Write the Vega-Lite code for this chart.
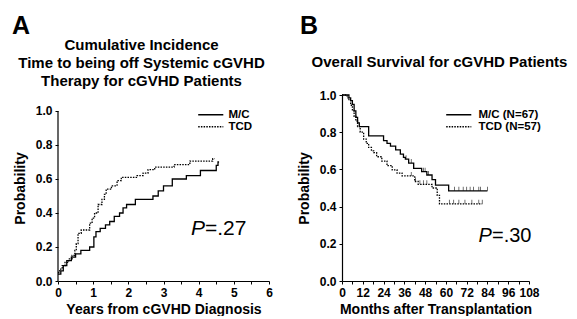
{
  "$schema": "https://vega.github.io/schema/vega-lite/v6.json",
  "background": "white",
  "padding": {"left": 12, "top": 13, "right": 0, "bottom": 0},
  "config": {
    "view": {"stroke": null},
    "font": "Liberation Sans",
    "axis": {
      "domainColor": "black", "domainWidth": 1.2, "tickColor": "black", "tickWidth": 1, "tickSize": 3,
      "labelFont": "Liberation Sans", "labelFontWeight": "bold", "labelFontSize": 12, "labelColor": "black", "labelPadding": 3,
      "titleFont": "Liberation Sans", "titleFontWeight": "bold", "titleFontSize": 14, "titleColor": "black",
      "grid": false, "labelOverlap": false
    },
    "axisY": {"titlePadding": 8},
    "axisX": {"titlePadding": 4},
    "legend": {
      "orient": "none", "title": null, "padding": 0, "rowPadding": -3,
      "labelFont": "Liberation Sans", "labelFontWeight": "bold", "labelFontSize": 11.5, "labelColor": "black",
      "symbolType": "M-3,0H3", "symbolSize": 70, "symbolStrokeColor": "black", "symbolStrokeWidth": 1.3, "symbolFillColor": "transparent"
    },
    "title": {"font": "Liberation Sans", "fontWeight": "bold", "fontSize": 15, "color": "black", "anchor": "middle", "frame": "group"}
  },
  "datasets": {
    "incidence": [
      {"years": 0, "p": 0.04, "group": "M/C"},
      {"years": 0.08, "p": 0.06, "group": "M/C"},
      {"years": 0.15, "p": 0.09, "group": "M/C"},
      {"years": 0.25, "p": 0.12, "group": "M/C"},
      {"years": 0.38, "p": 0.14, "group": "M/C"},
      {"years": 0.5, "p": 0.16, "group": "M/C"},
      {"years": 0.65, "p": 0.18, "group": "M/C"},
      {"years": 0.9, "p": 0.2, "group": "M/C"},
      {"years": 1.02, "p": 0.26, "group": "M/C"},
      {"years": 1.08, "p": 0.29, "group": "M/C"},
      {"years": 1.2, "p": 0.31, "group": "M/C"},
      {"years": 1.35, "p": 0.33, "group": "M/C"},
      {"years": 1.47, "p": 0.35, "group": "M/C"},
      {"years": 1.6, "p": 0.38, "group": "M/C"},
      {"years": 1.75, "p": 0.4, "group": "M/C"},
      {"years": 1.85, "p": 0.43, "group": "M/C"},
      {"years": 1.95, "p": 0.45, "group": "M/C"},
      {"years": 2.2, "p": 0.48, "group": "M/C"},
      {"years": 2.7, "p": 0.5, "group": "M/C"},
      {"years": 2.85, "p": 0.53, "group": "M/C"},
      {"years": 3.0, "p": 0.56, "group": "M/C"},
      {"years": 3.25, "p": 0.6, "group": "M/C"},
      {"years": 3.65, "p": 0.62, "group": "M/C"},
      {"years": 4.05, "p": 0.65, "group": "M/C"},
      {"years": 4.5, "p": 0.68, "group": "M/C"},
      {"years": 4.55, "p": 0.7, "group": "M/C"},
      {"years": 4.58, "p": 0.7, "group": "M/C"},
      {"years": 0, "p": 0.05, "group": "TCD"},
      {"years": 0.05, "p": 0.07, "group": "TCD"},
      {"years": 0.12, "p": 0.09, "group": "TCD"},
      {"years": 0.2, "p": 0.11, "group": "TCD"},
      {"years": 0.3, "p": 0.13, "group": "TCD"},
      {"years": 0.4, "p": 0.15, "group": "TCD"},
      {"years": 0.48, "p": 0.18, "group": "TCD"},
      {"years": 0.52, "p": 0.22, "group": "TCD"},
      {"years": 0.57, "p": 0.28, "group": "TCD"},
      {"years": 0.66, "p": 0.3, "group": "TCD"},
      {"years": 0.9, "p": 0.34, "group": "TCD"},
      {"years": 0.97, "p": 0.37, "group": "TCD"},
      {"years": 1.04, "p": 0.4, "group": "TCD"},
      {"years": 1.14, "p": 0.45, "group": "TCD"},
      {"years": 1.25, "p": 0.48, "group": "TCD"},
      {"years": 1.32, "p": 0.51, "group": "TCD"},
      {"years": 1.37, "p": 0.54, "group": "TCD"},
      {"years": 1.52, "p": 0.56, "group": "TCD"},
      {"years": 1.68, "p": 0.59, "group": "TCD"},
      {"years": 1.8, "p": 0.61, "group": "TCD"},
      {"years": 2.25, "p": 0.62, "group": "TCD"},
      {"years": 2.42, "p": 0.635, "group": "TCD"},
      {"years": 2.56, "p": 0.655, "group": "TCD"},
      {"years": 2.75, "p": 0.67, "group": "TCD"},
      {"years": 3.3, "p": 0.685, "group": "TCD"},
      {"years": 3.75, "p": 0.705, "group": "TCD"},
      {"years": 4.4, "p": 0.72, "group": "TCD"},
      {"years": 4.45, "p": 0.72, "group": "TCD"}
    ],
    "survival": [
      {"months": 0, "p": 1.0, "group": "M/C (N=67)"},
      {"months": 4, "p": 0.985, "group": "M/C (N=67)"},
      {"months": 5, "p": 0.97, "group": "M/C (N=67)"},
      {"months": 6, "p": 0.95, "group": "M/C (N=67)"},
      {"months": 7, "p": 0.915, "group": "M/C (N=67)"},
      {"months": 8, "p": 0.88, "group": "M/C (N=67)"},
      {"months": 9, "p": 0.85, "group": "M/C (N=67)"},
      {"months": 10, "p": 0.83, "group": "M/C (N=67)"},
      {"months": 15.4, "p": 0.78, "group": "M/C (N=67)"},
      {"months": 24, "p": 0.755, "group": "M/C (N=67)"},
      {"months": 26, "p": 0.74, "group": "M/C (N=67)"},
      {"months": 28, "p": 0.725, "group": "M/C (N=67)"},
      {"months": 31, "p": 0.705, "group": "M/C (N=67)"},
      {"months": 33.7, "p": 0.682, "group": "M/C (N=67)"},
      {"months": 35.5, "p": 0.665, "group": "M/C (N=67)"},
      {"months": 36.6, "p": 0.655, "group": "M/C (N=67)"},
      {"months": 38.5, "p": 0.634, "group": "M/C (N=67)"},
      {"months": 41.4, "p": 0.605, "group": "M/C (N=67)"},
      {"months": 46, "p": 0.588, "group": "M/C (N=67)"},
      {"months": 49, "p": 0.57, "group": "M/C (N=67)"},
      {"months": 52, "p": 0.545, "group": "M/C (N=67)"},
      {"months": 54, "p": 0.515, "group": "M/C (N=67)"},
      {"months": 61.6, "p": 0.485, "group": "M/C (N=67)"},
      {"months": 84, "p": 0.485, "group": "M/C (N=67)"},
      {"months": 0, "p": 1.0, "group": "TCD (N=57)"},
      {"months": 3, "p": 0.985, "group": "TCD (N=57)"},
      {"months": 4, "p": 0.97, "group": "TCD (N=57)"},
      {"months": 5, "p": 0.945, "group": "TCD (N=57)"},
      {"months": 6, "p": 0.915, "group": "TCD (N=57)"},
      {"months": 7, "p": 0.885, "group": "TCD (N=57)"},
      {"months": 8, "p": 0.86, "group": "TCD (N=57)"},
      {"months": 9, "p": 0.83, "group": "TCD (N=57)"},
      {"months": 10.5, "p": 0.8, "group": "TCD (N=57)"},
      {"months": 12.5, "p": 0.763, "group": "TCD (N=57)"},
      {"months": 14, "p": 0.74, "group": "TCD (N=57)"},
      {"months": 15.4, "p": 0.718, "group": "TCD (N=57)"},
      {"months": 17, "p": 0.7, "group": "TCD (N=57)"},
      {"months": 18.3, "p": 0.69, "group": "TCD (N=57)"},
      {"months": 20, "p": 0.668, "group": "TCD (N=57)"},
      {"months": 23, "p": 0.645, "group": "TCD (N=57)"},
      {"months": 26, "p": 0.62, "group": "TCD (N=57)"},
      {"months": 29, "p": 0.597, "group": "TCD (N=57)"},
      {"months": 31.8, "p": 0.58, "group": "TCD (N=57)"},
      {"months": 34.7, "p": 0.565, "group": "TCD (N=57)"},
      {"months": 42, "p": 0.535, "group": "TCD (N=57)"},
      {"months": 44, "p": 0.52, "group": "TCD (N=57)"},
      {"months": 52, "p": 0.5, "group": "TCD (N=57)"},
      {"months": 55, "p": 0.46, "group": "TCD (N=57)"},
      {"months": 56.3, "p": 0.415, "group": "TCD (N=57)"},
      {"months": 81, "p": 0.415, "group": "TCD (N=57)"}
    ],
    "censor": [
      {"months": 37, "p": 0.655},
      {"months": 40, "p": 0.634},
      {"months": 47, "p": 0.588},
      {"months": 48, "p": 0.588},
      {"months": 50, "p": 0.57},
      {"months": 65, "p": 0.485},
      {"months": 67.5, "p": 0.485},
      {"months": 70, "p": 0.485},
      {"months": 72, "p": 0.485},
      {"months": 74, "p": 0.485},
      {"months": 76, "p": 0.485},
      {"months": 79, "p": 0.485},
      {"months": 80, "p": 0.485},
      {"months": 84, "p": 0.485},
      {"months": 40, "p": 0.565},
      {"months": 42.5, "p": 0.535},
      {"months": 45, "p": 0.52},
      {"months": 47, "p": 0.52},
      {"months": 49, "p": 0.52},
      {"months": 62, "p": 0.415},
      {"months": 64.5, "p": 0.415},
      {"months": 67.5, "p": 0.415},
      {"months": 71, "p": 0.415},
      {"months": 75, "p": 0.415},
      {"months": 79, "p": 0.415},
      {"months": 81, "p": 0.415}
    ]
  },
  "spacing": 24,
  "resolve": {"scale": {"strokeDash": "independent"}, "legend": {"strokeDash": "independent"}},
  "hconcat": [
    {
      "width": 211,
      "height": 186,
      "title": {"text": ["Cumulative Incidence", "Time to being off Systemic cGVHD", "Therapy for cGVHD Patients"], "lineHeight": 18, "offset": -75, "dx": -22, "frame": "group"},
      "layer": [
        {
          "data": {"name": "incidence"},
          "mark": {"type": "line", "interpolate": "step-after", "color": "black", "strokeWidth": 1.3},
          "encoding": {
            "x": {"field": "years", "type": "quantitative", "scale": {"domain": [0, 6], "nice": false},
                  "axis": {"values": [0, 0.5, 1, 1.5, 2, 2.5, 3, 3.5, 4, 4.5, 5, 5.5, 6], "labelExpr": "datum.value % 1 === 0 ? format(datum.value, 'd') : ''", "title": "Years from cGVHD Diagnosis", "labelOverlap": false, "labelFlush": false}},
            "y": {"field": "p", "type": "quantitative", "scale": {"domain": [0, 1.0941], "nice": false},
                  "axis": {"values": [0, 0.2, 0.4, 0.6, 0.8, 1.0], "format": ".1f", "domain": false, "title": "Probability", "labelOverlap": false}},
            "strokeDash": {"field": "group", "type": "nominal", "scale": {"domain": ["M/C", "TCD"], "range": [[1, 0], [1.5, 1.2]]},
                  "legend": {"legendX": 147, "legendY": 14, "labelOffset": 12}}
          }
        },
        {
          "data": {"values": [{}]},
          "mark": {"type": "rule", "color": "black", "strokeWidth": 1.2},
          "encoding": {
            "x": {"datum": 0, "type": "quantitative", "scale": {"domain": [0, 6], "nice": false},
                  "axis": {"values": [0, 0.5, 1, 1.5, 2, 2.5, 3, 3.5, 4, 4.5, 5, 5.5, 6], "labelExpr": "datum.value % 1 === 0 ? format(datum.value, 'd') : ''", "title": "Years from cGVHD Diagnosis", "labelOverlap": false, "labelFlush": false}},
            "y": {"datum": 0, "type": "quantitative", "scale": {"domain": [0, 1.0941], "nice": false},
                  "axis": {"values": [0, 0.2, 0.4, 0.6, 0.8, 1.0], "format": ".1f", "domain": false, "title": "Probability", "labelOverlap": false}},
            "y2": {"datum": 1}
          }
        },
        {
          "data": {"values": [{}]},
          "mark": {"type": "text", "text": "P", "fontStyle": "italic", "fontSize": 21, "align": "right", "baseline": "middle", "font": "Liberation Sans", "color": "black"},
          "encoding": {
            "x": {"datum": 4.18, "type": "quantitative", "scale": {"domain": [0, 6], "nice": false},
                  "axis": {"values": [0, 0.5, 1, 1.5, 2, 2.5, 3, 3.5, 4, 4.5, 5, 5.5, 6], "labelExpr": "datum.value % 1 === 0 ? format(datum.value, 'd') : ''", "title": "Years from cGVHD Diagnosis", "labelOverlap": false, "labelFlush": false}},
            "y": {"datum": 0.306, "type": "quantitative", "scale": {"domain": [0, 1.0941], "nice": false},
                  "axis": {"values": [0, 0.2, 0.4, 0.6, 0.8, 1.0], "format": ".1f", "domain": false, "title": "Probability", "labelOverlap": false}}
          }
        },
        {
          "data": {"values": [{}]},
          "mark": {"type": "text", "text": "=.27", "fontSize": 21, "align": "left", "baseline": "middle", "font": "Liberation Sans", "color": "black"},
          "encoding": {
            "x": {"datum": 4.18, "type": "quantitative", "scale": {"domain": [0, 6], "nice": false},
                  "axis": {"values": [0, 0.5, 1, 1.5, 2, 2.5, 3, 3.5, 4, 4.5, 5, 5.5, 6], "labelExpr": "datum.value % 1 === 0 ? format(datum.value, 'd') : ''", "title": "Years from cGVHD Diagnosis", "labelOverlap": false, "labelFlush": false}},
            "y": {"datum": 0.306, "type": "quantitative", "scale": {"domain": [0, 1.0941], "nice": false},
                  "axis": {"values": [0, 0.2, 0.4, 0.6, 0.8, 1.0], "format": ".1f", "domain": false, "title": "Probability", "labelOverlap": false}}
          }
        },
        {
          "data": {"values": [{}]},
          "mark": {"type": "text", "text": "A", "fontSize": 25, "fontWeight": "bold", "align": "left", "baseline": "alphabetic", "font": "Liberation Sans", "color": "black"},
          "encoding": {
            "x": {"datum": -1.308, "type": "quantitative", "scale": {"domain": [0, 6], "nice": false},
                  "axis": {"values": [0, 0.5, 1, 1.5, 2, 2.5, 3, 3.5, 4, 4.5, 5, 5.5, 6], "labelExpr": "datum.value % 1 === 0 ? format(datum.value, 'd') : ''", "title": "Years from cGVHD Diagnosis", "labelOverlap": false, "labelFlush": false}},
            "y": {"datum": 1.453, "type": "quantitative", "scale": {"domain": [0, 1.0941], "nice": false},
                  "axis": {"values": [0, 0.2, 0.4, 0.6, 0.8, 1.0], "format": ".1f", "domain": false, "title": "Probability", "labelOverlap": false}}
          }
        }
      ]
    },
    {
      "width": 187,
      "height": 186,
      "title": {"text": "Overall Survival for cGVHD Patients", "offset": -56, "dx": 4, "frame": "group"},
      "layer": [
        {
          "data": {"name": "survival"},
          "mark": {"type": "line", "interpolate": "step-after", "color": "black", "strokeWidth": 1.3},
          "encoding": {
            "x": {"field": "months", "type": "quantitative", "scale": {"domain": [0, 108], "nice": false},
                  "axis": {"values": [0, 6, 12, 18, 24, 30, 36, 42, 48, 54, 60, 66, 72, 78, 84, 90, 96, 102, 108], "labelExpr": "datum.value % 12 === 0 ? datum.label : ''", "title": "Months after Transplantation", "labelOverlap": false, "labelFlush": false}},
            "y": {"field": "p", "type": "quantitative", "scale": {"domain": [0, 1], "nice": false},
                  "axis": {"values": [0, 0.2, 0.4, 0.6, 0.8, 1.0], "format": ".1f", "title": "Probability", "labelOverlap": false}},
            "strokeDash": {"field": "group", "type": "nominal", "scale": {"domain": ["M/C (N=67)", "TCD (N=57)"], "range": [[1, 0], [1.5, 1.2]]},
                  "legend": {"legendX": 111, "legendY": 14, "labelOffset": 14}}
          }
        },
        {
          "data": {"name": "censor"},
          "mark": {"type": "tick", "orient": "vertical", "color": "black", "size": 4, "thickness": 0.8, "yOffset": -2},
          "encoding": {
            "x": {"field": "months", "type": "quantitative", "scale": {"domain": [0, 108], "nice": false},
                  "axis": {"values": [0, 6, 12, 18, 24, 30, 36, 42, 48, 54, 60, 66, 72, 78, 84, 90, 96, 102, 108], "labelExpr": "datum.value % 12 === 0 ? datum.label : ''", "title": "Months after Transplantation", "labelOverlap": false, "labelFlush": false}},
            "y": {"field": "p", "type": "quantitative", "scale": {"domain": [0, 1], "nice": false},
                  "axis": {"values": [0, 0.2, 0.4, 0.6, 0.8, 1.0], "format": ".1f", "title": "Probability", "labelOverlap": false}}
          }
        },
        {
          "data": {"values": [{}]},
          "mark": {"type": "text", "text": "P", "fontStyle": "italic", "fontSize": 20, "align": "right", "baseline": "middle", "font": "Liberation Sans", "color": "black"},
          "encoding": {
            "x": {"datum": 86.6, "type": "quantitative", "scale": {"domain": [0, 108], "nice": false},
                  "axis": {"values": [0, 6, 12, 18, 24, 30, 36, 42, 48, 54, 60, 66, 72, 78, 84, 90, 96, 102, 108], "labelExpr": "datum.value % 12 === 0 ? datum.label : ''", "title": "Months after Transplantation", "labelOverlap": false, "labelFlush": false}},
            "y": {"datum": 0.242, "type": "quantitative", "scale": {"domain": [0, 1], "nice": false},
                  "axis": {"values": [0, 0.2, 0.4, 0.6, 0.8, 1.0], "format": ".1f", "title": "Probability", "labelOverlap": false}}
          }
        },
        {
          "data": {"values": [{}]},
          "mark": {"type": "text", "text": "=.30", "fontSize": 20, "align": "left", "baseline": "middle", "font": "Liberation Sans", "color": "black"},
          "encoding": {
            "x": {"datum": 86.6, "type": "quantitative", "scale": {"domain": [0, 108], "nice": false},
                  "axis": {"values": [0, 6, 12, 18, 24, 30, 36, 42, 48, 54, 60, 66, 72, 78, 84, 90, 96, 102, 108], "labelExpr": "datum.value % 12 === 0 ? datum.label : ''", "title": "Months after Transplantation", "labelOverlap": false, "labelFlush": false}},
            "y": {"datum": 0.242, "type": "quantitative", "scale": {"domain": [0, 1], "nice": false},
                  "axis": {"values": [0, 0.2, 0.4, 0.6, 0.8, 1.0], "format": ".1f", "title": "Probability", "labelOverlap": false}}
          }
        },
        {
          "data": {"values": [{}]},
          "mark": {"type": "text", "text": "B", "fontSize": 25, "fontWeight": "bold", "align": "left", "baseline": "alphabetic", "font": "Liberation Sans", "color": "black"},
          "encoding": {
            "x": {"datum": -24.26, "type": "quantitative", "scale": {"domain": [0, 108], "nice": false},
                  "axis": {"values": [0, 6, 12, 18, 24, 30, 36, 42, 48, 54, 60, 66, 72, 78, 84, 90, 96, 102, 108], "labelExpr": "datum.value % 12 === 0 ? datum.label : ''", "title": "Months after Transplantation", "labelOverlap": false, "labelFlush": false}},
            "y": {"datum": 1.328, "type": "quantitative", "scale": {"domain": [0, 1], "nice": false},
                  "axis": {"values": [0, 0.2, 0.4, 0.6, 0.8, 1.0], "format": ".1f", "title": "Probability", "labelOverlap": false}}
          }
        }
      ]
    }
  ]
}
